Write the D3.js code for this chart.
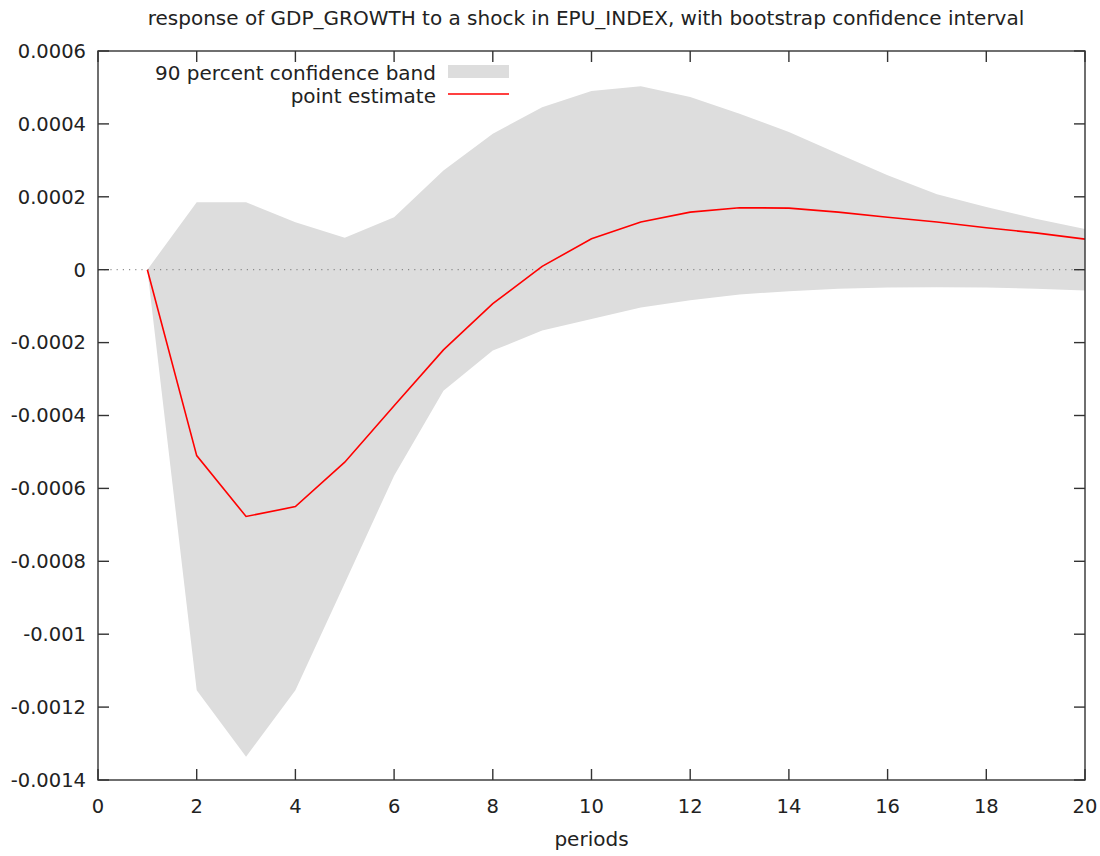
<!DOCTYPE html>
<html><head><meta charset="utf-8">
<script src="https://cdn.jsdelivr.net/npm/d3@7"></script>
<style>body{margin:0;background:#fff}text{font-family:"DejaVu Sans",sans-serif;fill:#222}</style>
</head><body>
<svg id="c" width="1100" height="856"></svg>
<script>
const periods = [1,2,3,4,5,6,7,8,9,10,11,12,13,14,15,16,17,18,19,20];
const pointEstimate = [0,-0.000510,-0.000677,-0.000650,-0.000528,-0.000373,-0.000220,-0.000093,0.000009,0.000085,0.000131,0.000158,0.000170,0.000169,0.000158,0.000144,0.000131,0.000115,0.000101,0.000084];
const bandUpper = [0,0.000185,0.000185,0.000130,0.0000875,0.000144,0.000272,0.000373,0.000446,0.000490,0.000503,0.000474,0.000428,0.000378,0.000318,0.000259,0.000207,0.000172,0.000140,0.000112];
const bandLower = [0,-0.001154,-0.001336,-0.001154,-0.000860,-0.000565,-0.000332,-0.000222,-0.000167,-0.000135,-0.000104,-0.000084,-0.000068,-0.000059,-0.000052,-0.000049,-0.000048,-0.000049,-0.000052,-0.000057];
const xTicks = [0,2,4,6,8,10,12,14,16,18,20];
const yTicks = [0.0006,0.0004,0.0002,0,-0.0002,-0.0004,-0.0006,-0.0008,-0.001,-0.0012,-0.0014];
const yTickLabels = ["0.0006","0.0004","0.0002","0","-0.0002","-0.0004","-0.0006","-0.0008","-0.001","-0.0012","-0.0014"];
const title = "response of GDP_GROWTH to a shock in EPU_INDEX, with bootstrap confidence interval";

const L=98,R=1085,T=51,B=780;
const svg=d3.select("#c");
const x=d3.scaleLinear().domain([0,20]).range([L,R]);
const y=d3.scaleLinear().domain([-0.0014,0.0006]).range([B,T]);
const data=periods.map((p,i)=>({p,v:pointEstimate[i],lo:bandLower[i],hi:bandUpper[i]}));

svg.append("path").datum(data)
  .attr("d",d3.area().x(d=>x(d.p)).y0(d=>y(d.lo)).y1(d=>y(d.hi)))
  .attr("fill","#dddddd");

svg.append("line").attr("x1",L).attr("x2",R).attr("y1",y(0)).attr("y2",y(0))
  .attr("stroke","#777").attr("stroke-width",1).attr("stroke-dasharray","1.2,5");

svg.append("path").datum(data)
  .attr("d",d3.line().x(d=>x(d.p)).y(d=>y(d.v)))
  .attr("fill","none").attr("stroke","#ff0000").attr("stroke-width",1.6);

const tl=11;
const ax=svg.append("g").attr("stroke","#333").attr("stroke-width",1.4);
ax.append("rect").attr("x",L).attr("y",T).attr("width",R-L).attr("height",B-T).attr("fill","none");
xTicks.forEach(t=>{
  ax.append("line").attr("x1",x(t)).attr("x2",x(t)).attr("y1",B).attr("y2",B-tl);
  ax.append("line").attr("x1",x(t)).attr("x2",x(t)).attr("y1",T).attr("y2",T+tl);
});
yTicks.forEach(t=>{
  ax.append("line").attr("x1",L).attr("x2",L+tl).attr("y1",y(t)).attr("y2",y(t));
  ax.append("line").attr("x1",R).attr("x2",R-tl).attr("y1",y(t)).attr("y2",y(t));
});

const fs=19.5, fs2=20;
xTicks.forEach(t=>{
  svg.append("text").attr("x",x(t)).attr("y",806).attr("dy","0.35em")
    .attr("text-anchor","middle").attr("font-size",fs).text(t);
});
yTicks.forEach((t,i)=>{
  svg.append("text").attr("x",86).attr("y",y(t)).attr("dy","0.35em")
    .attr("text-anchor","end").attr("font-size",fs).text(yTickLabels[i]);
});
svg.append("text").attr("x",586).attr("y",18).attr("dy","0.35em")
  .attr("text-anchor","middle").attr("font-size",fs2).text(title);
svg.append("text").attr("x",(L+R)/2).attr("y",839).attr("dy","0.35em")
  .attr("text-anchor","middle").attr("font-size",fs2).text("periods");

// legend
svg.append("text").attr("x",436).attr("y",73).attr("dy","0.35em")
  .attr("text-anchor","end").attr("font-size",fs2).text("90 percent confidence band");
svg.append("rect").attr("x",448).attr("y",65).attr("width",61).attr("height",13).attr("fill","#dddddd");
svg.append("text").attr("x",436).attr("y",96).attr("dy","0.35em")
  .attr("text-anchor","end").attr("font-size",fs2).text("point estimate");
svg.append("line").attr("x1",448).attr("x2",509).attr("y1",94).attr("y2",94)
  .attr("stroke","#ff0000").attr("stroke-width",1.6);
</script>
</body></html>
